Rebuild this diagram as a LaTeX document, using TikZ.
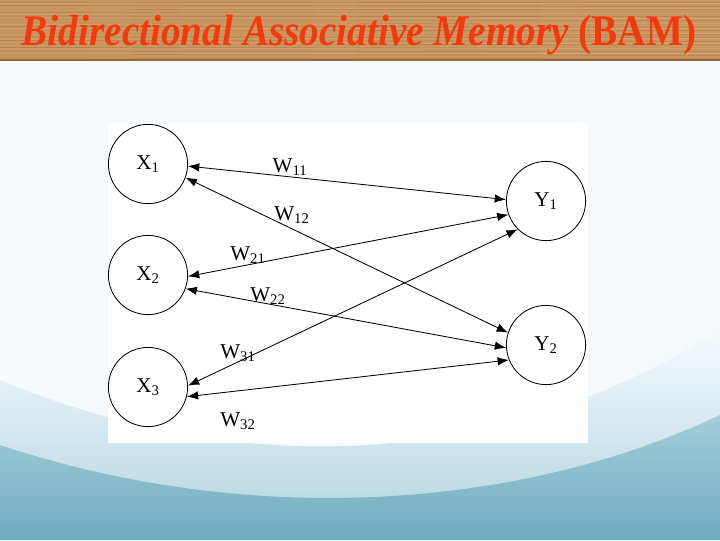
\documentclass[tikz,border=0pt]{standalone}
\usepackage{fontspec}
\setmainfont{Liberation Serif}
\usetikzlibrary{arrows.meta}

\definecolor{woodbase}{HTML}{C99762}
\definecolor{wooddark}{HTML}{9C6A38}
\definecolor{woodlight}{HTML}{E2BA88}
\definecolor{titlered}{HTML}{F23A0E}
\definecolor{skytop}{HTML}{F6FAFC}
\definecolor{wavelight}{HTML}{E2F0F4}
\definecolor{wavemid}{HTML}{AFD3DF}
\definecolor{wavedark}{HTML}{6DABBF}

\tikzset{
  unit/.style={circle, draw, line width=0.6pt, minimum size=1.98cm, inner sep=0pt,
    font=\fontsize{15}{15}\selectfont},
  link/.style={{Latex[length=8pt,width=6pt]}-{Latex[length=8pt,width=6pt]}, line width=0.6pt},
  weight/.style={font=\fontsize{15}{15}\selectfont, inner sep=1pt},
  grain/.style={line width=0.5pt, opacity=0.45}
}

\begin{document}
\begin{tikzpicture}[x=0.025cm, y=-0.025cm]
  \useasboundingbox (0,0) rectangle (720,540);

  % background
  \fill[skytop] (0,60) rectangle (720,540);
  \shade[top color=skytop, bottom color=wavemid]
    (0,380) .. controls (240,480) and (500,470) .. (720,330) -- (720,540) -- (0,540) -- cycle;
  \shade[top color=wavemid!85!wavedark, bottom color=wavedark]
    (0,445) .. controls (250,528) and (520,510) .. (720,415) -- (720,540) -- (0,540) -- cycle;

  % wood bar
  \fill[woodbase] (0,0) rectangle (720,60);
  \foreach \g in {2,5.5,...,58} {
    \draw[grain, wooddark] (0,\g) -- (720,\g+0.8);
  }
  \foreach \g in {4,9,...,58} {
    \draw[grain, woodlight] (0,\g) -- (720,\g-0.6);
  }
  \draw[wooddark, line width=1pt] (0,60) -- (720,60);
  \node[anchor=base, text=titlered, inner sep=0pt, xscale=0.9,
    font=\fontsize{31}{31}\selectfont\bfseries] (title) at (359,45)
    {\itshape Bidirectional Associative Memory \upshape(BAM)};

  % diagram panel
  \fill[white] (108,123) rectangle (588,443);

  \node[unit] (x1) at (148,164) {X\textsubscript{1}};
  \node[unit] (x2) at (148,275) {X\textsubscript{2}};
  \node[unit] (x3) at (148,387) {X\textsubscript{3}};
  \node[unit] (y1) at (546,201) {Y\textsubscript{1}};
  \node[unit] (y2) at (546,345) {Y\textsubscript{2}};

  \draw[link] (x1.-3)  -- (y1.178);
  \draw[link] (x1.-20) -- (y2.162);
  \draw[link] (x2.-2)  -- (y1.200);
  \draw[link] (x2.-20) -- (y2.184);
  \draw[link] (x3.2)   -- (y1.225);
  \draw[link] (x3.-14) -- (y2.202);

  \node[weight] (w11) at (290,167) {W\textsubscript{11}};
  \node[weight] (w12) at (292,215) {W\textsubscript{12}};
  \node[weight] (w21) at (248,255) {W\textsubscript{21}};
  \node[weight] (w22) at (268,296) {W\textsubscript{22}};
  \node[weight] (w31) at (238,353) {W\textsubscript{31}};
  \node[weight] (w32) at (238,421) {W\textsubscript{32}};
\end{tikzpicture}
\end{document}
